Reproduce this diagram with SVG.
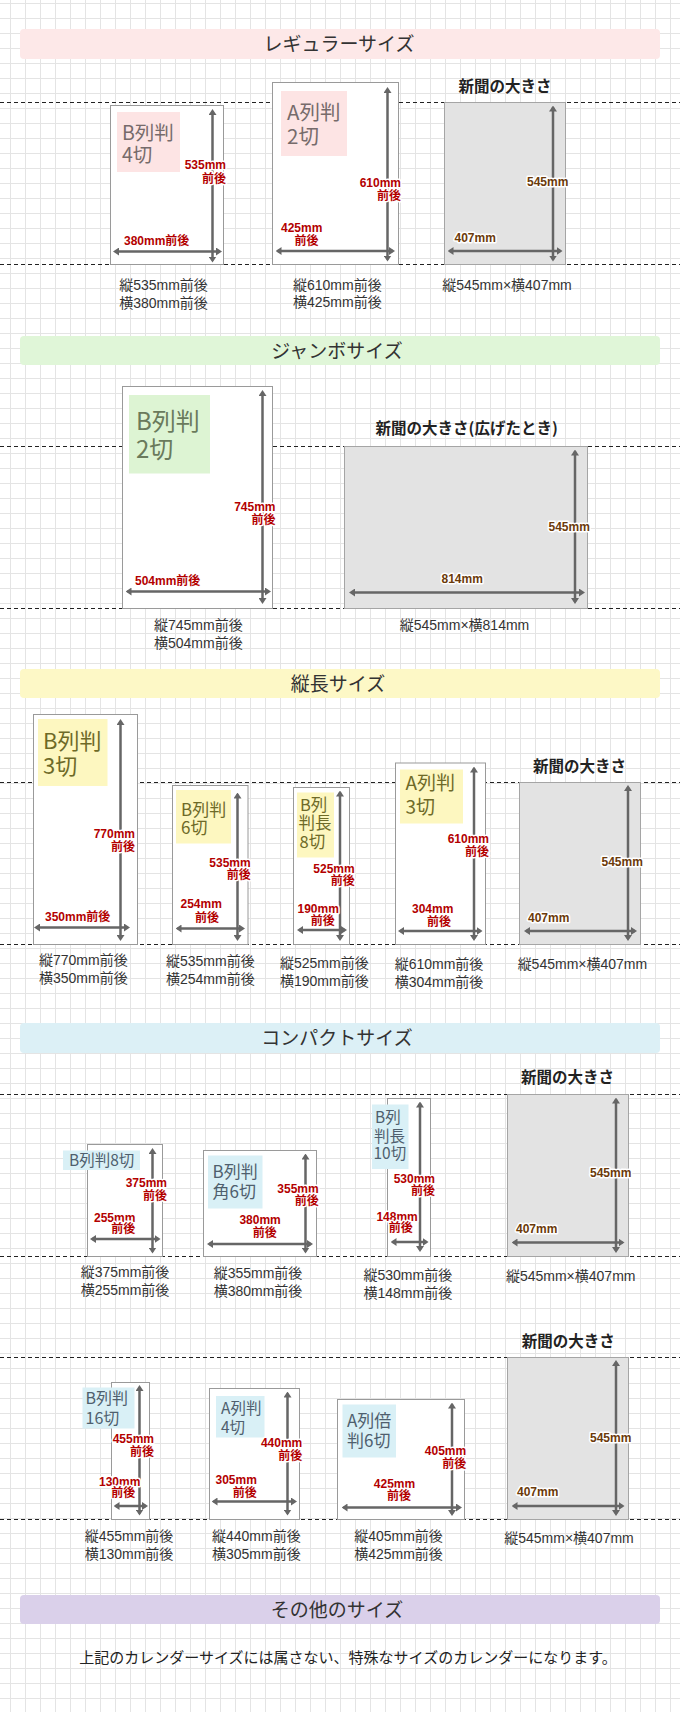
<svg xmlns="http://www.w3.org/2000/svg" width="680" height="1712" viewBox="0 0 680 1712">
<defs>
<pattern id="grid" width="15" height="15" patternUnits="userSpaceOnUse" x="10" y="3"><path d="M0.5 0V15M0 0.5H15" stroke="#e4e4e4" stroke-width="1" fill="none"/></pattern>
<marker id="ah" viewBox="0 0 6 8" refX="4" refY="4" markerWidth="6" markerHeight="8" markerUnits="userSpaceOnUse" orient="auto-start-reverse"><path d="M0,0 L6,4 L0,8 z" fill="#666"/></marker>
<style>
.box{fill:#fff;stroke:#9a9a9a;stroke-width:1}
.np{fill:#e3e3e3;stroke:#a5a5a5;stroke-width:1}
.arr{stroke:#666;stroke-width:2.5;fill:none;marker-start:url(#ah);marker-end:url(#ah)}
.dash{stroke:#222;stroke-width:1;stroke-dasharray:4 3;fill:none}
.dim{font-family:"Liberation Sans","Noto Sans CJK JP",sans-serif;font-weight:bold;font-size:12px;fill:#b30000;stroke:#fff;stroke-width:3;paint-order:stroke;stroke-linejoin:round}
.br{fill:#6b3a0a}
.e{text-anchor:end}
.cap{font-family:"Liberation Sans","Noto Sans CJK JP",sans-serif;font-size:14px;fill:#333;text-anchor:middle}
.npt{font-family:"Noto Sans CJK JP",sans-serif;font-weight:bold;font-size:15.5px;fill:#222;text-anchor:middle}
.ttl{font-family:"Noto Sans CJK JP",sans-serif;font-size:19px;fill:#333;text-anchor:middle}
.lbl{font-family:"Noto Sans CJK JP",sans-serif}
.pk{fill:#fde4e4}.pkt{fill:#766b6b}
.gr{fill:#ddf4d3}.grt{fill:#6a7a5c}
.ye{fill:#fdf7c0}.yet{fill:#6e6a28}
.bl{fill:#d9f0f6}.blt{fill:#4f5f6e}
</style>
</defs>
<rect width="680" height="1712" fill="#fff"/>
<rect width="680" height="1712" fill="url(#grid)"/>

<g id="banners">
<rect x="20" y="29" width="640" height="30" rx="4" fill="#fde8e8"/>
<text class="ttl" x="339" y="51">レギュラーサイズ</text>
<rect x="20" y="336" width="640" height="29" rx="4" fill="#e0f6d8"/>
<text class="ttl" x="337" y="357.5">ジャンボサイズ</text>
<rect x="20" y="669" width="640" height="29" rx="4" fill="#fdf8c6"/>
<text class="ttl" x="338" y="690.5">縦長サイズ</text>
<rect x="20" y="1023" width="640" height="30" rx="4" fill="#dcf0f6"/>
<text class="ttl" x="337" y="1045">コンパクトサイズ</text>
<rect x="20" y="1595" width="640" height="29" rx="4" fill="#dad0ea"/>
<text class="ttl" x="337" y="1616.5">その他のサイズ</text>
</g>

<g id="guides">
<path class="dash" d="M0 102.5H680M0 264.5H680M0 446.5H680M0 608.5H680M0 782.5H680M0 944.5H680M0 1094.5H680M0 1256.5H680M0 1357.5H680M0 1519.5H680"/>
</g>

<!-- Section 1 -->
<g id="b4">
<rect class="box" x="110.5" y="105.5" width="113" height="159"/>
<rect class="pk" x="117" y="112" width="63" height="60"/>
<text class="lbl pkt" x="122" y="140" font-size="19.5">B列判<tspan x="122" y="161.5">4切</tspan></text>
<path class="arr" d="M212.5 111V260.5"/>
<path class="arr" d="M115 251.5H220"/>
<text class="dim e" x="226" y="169">535mm</text>
<text class="dim e" x="226" y="182.5">前後</text>
<text class="dim" x="124" y="245">380mm前後</text>
<text class="cap" x="163.5" y="290">縦535mm前後</text>
<text class="cap" x="163.5" y="307.5">横380mm前後</text>
</g>
<g id="a2">
<rect class="box" x="272.5" y="82.5" width="126" height="182"/>
<rect class="pk" x="281" y="91" width="66" height="65"/>
<text class="lbl pkt" x="287" y="120" font-size="20.5">A列判<tspan x="287" y="144">2切</tspan></text>
<path class="arr" d="M387.5 89V259.5"/>
<path class="arr" d="M277.5 251H393"/>
<text class="dim e" x="401" y="186.5">610mm</text>
<text class="dim e" x="401" y="200">前後</text>
<text class="dim" x="281" y="231.5">425mm</text>
<text class="dim e" x="318.5" y="245">前後</text>
<text class="cap" x="337.3" y="289.5">縦610mm前後</text>
<text class="cap" x="337.3" y="307">横425mm前後</text>
</g>
<g id="np1">
<text class="npt" x="505" y="91.5">新聞の大きさ</text>
<rect class="np" x="444.5" y="102.5" width="121" height="162"/>
<path class="arr" d="M553 107.5V259.5"/>
<path class="arr" d="M449.5 251H560.5"/>
<text class="dim br" x="527" y="186">545mm</text>
<text class="dim br" x="454.5" y="241.5">407mm</text>
<text class="cap" x="507" y="289.5">縦545mm×横407mm</text>
</g>

<!-- Section 2 -->
<g id="b2">
<rect class="box" x="122.5" y="386.5" width="150" height="222"/>
<rect class="gr" x="129" y="395" width="81" height="78.5"/>
<text class="lbl grt" x="136" y="430" font-size="24">B列判<tspan x="136" y="458">2切</tspan></text>
<path class="arr" d="M262.5 392V602"/>
<path class="arr" d="M127.5 591.5H269"/>
<text class="dim e" x="275.5" y="510.5">745mm</text>
<text class="dim e" x="275.5" y="524">前後</text>
<text class="dim" x="135" y="585">504mm前後</text>
<text class="cap" x="198.3" y="630">縦745mm前後</text>
<text class="cap" x="198.3" y="647.5">横504mm前後</text>
</g>
<g id="np2">
<text class="npt" x="466.7" y="434">新聞の大きさ(広げたとき)</text>
<rect class="np" x="344.5" y="446.5" width="243" height="162"/>
<path class="arr" d="M575 451.5V602"/>
<path class="arr" d="M351 592.5H583"/>
<text class="dim br" x="548.5" y="531">545mm</text>
<text class="dim br" x="441.5" y="582.5">814mm</text>
<text class="cap" x="464.5" y="630">縦545mm×横814mm</text>
</g>

<!-- Section 3 -->
<g id="b3">
<rect class="box" x="33.5" y="714.5" width="104" height="230"/>
<rect class="ye" x="38" y="719" width="69.5" height="67"/>
<text class="lbl yet" x="43" y="749" font-size="22">B列判<tspan x="43" y="774">3切</tspan></text>
<path class="arr" d="M120.5 721V939"/>
<path class="arr" d="M36 927.5H128"/>
<text class="dim e" x="135" y="838">770mm</text>
<text class="dim e" x="135" y="850.5">前後</text>
<text class="dim" x="45" y="921">350mm前後</text>
<text class="cap" x="83.3" y="965">縦770mm前後</text>
<text class="cap" x="83.3" y="982.5">横350mm前後</text>
</g>
<g id="b6">
<rect class="box" x="172.5" y="785.5" width="75.5" height="159"/>
<rect class="ye" x="176" y="790" width="55" height="53.5"/>
<text class="lbl yet" x="181" y="815.5" font-size="17">B列判<tspan x="181" y="833.5">6切</tspan></text>
<path class="arr" d="M237.5 794.5V939"/>
<path class="arr" d="M177.5 928.5H243"/>
<text class="dim e" x="250.7" y="866.5">535mm</text>
<text class="dim e" x="250.7" y="879">前後</text>
<text class="dim" x="180.5" y="908.3">254mm</text>
<text class="dim e" x="219" y="921.5">前後</text>
<text class="cap" x="210.3" y="966">縦535mm前後</text>
<text class="cap" x="210.3" y="984">横254mm前後</text>
</g>
<g id="b8long">
<rect class="box" x="293.5" y="787.5" width="56" height="157"/>
<rect class="ye" x="297" y="792.5" width="37" height="65"/>
<text class="lbl yet" x="300" y="810.5" font-size="16.5">B列<tspan x="298.5" y="829">判長</tspan><tspan x="299.5" y="848">8切</tspan></text>
<path class="arr" d="M340 792.5V939"/>
<path class="arr" d="M299 930H345"/>
<text class="dim e" x="354.7" y="873">525mm</text>
<text class="dim e" x="354.7" y="885">前後</text>
<text class="dim" x="297.5" y="913">190mm</text>
<text class="dim e" x="334.8" y="925">前後</text>
<text class="cap" x="324.3" y="968">縦525mm前後</text>
<text class="cap" x="324.3" y="986">横190mm前後</text>
</g>
<g id="a3">
<rect class="box" x="395.5" y="763" width="90" height="181.5"/>
<rect class="ye" x="400" y="769.5" width="63" height="54"/>
<text class="lbl yet" x="405.5" y="790" font-size="19">A列判<tspan x="405.5" y="814">3切</tspan></text>
<path class="arr" d="M474 768.5V939"/>
<path class="arr" d="M400 931H480.5"/>
<text class="dim e" x="489" y="843">610mm</text>
<text class="dim e" x="489" y="855.5">前後</text>
<text class="dim" x="412" y="913">304mm</text>
<text class="dim e" x="451" y="925.5">前後</text>
<text class="cap" x="439" y="969">縦610mm前後</text>
<text class="cap" x="439" y="987">横304mm前後</text>
</g>
<g id="np3">
<text class="npt" x="579.6" y="771.5">新聞の大きさ</text>
<rect class="np" x="519.5" y="782.5" width="121" height="162"/>
<path class="arr" d="M628 787V939"/>
<path class="arr" d="M526 931H635"/>
<text class="dim br" x="601.5" y="865.5">545mm</text>
<text class="dim br" x="528" y="921.5">407mm</text>
<text class="cap" x="582.4" y="969">縦545mm×横407mm</text>
</g>

<!-- Section 4 -->
<g id="b8">
<rect class="box" x="87.5" y="1144.5" width="75" height="112"/>
<rect class="bl" x="63" y="1150.5" width="77" height="19.5"/>
<text class="lbl blt" x="69" y="1165.5" font-size="15.5">B列判8切</text>
<path class="arr" d="M152.5 1150V1251.5"/>
<path class="arr" d="M92 1239H158.5"/>
<text class="dim e" x="167" y="1187">375mm</text>
<text class="dim e" x="167" y="1200">前後</text>
<text class="dim" x="94" y="1221.5">255mm</text>
<text class="dim e" x="135.3" y="1233">前後</text>
<text class="cap" x="125" y="1277">縦375mm前後</text>
<text class="cap" x="125" y="1295">横255mm前後</text>
</g>
<g id="bsq6">
<rect class="box" x="203.5" y="1150.5" width="113" height="106"/>
<rect class="bl" x="208" y="1155.5" width="54.5" height="53"/>
<text class="lbl blt" x="212.5" y="1178" font-size="17">B列判<tspan x="212.5" y="1198">角6切</tspan></text>
<path class="arr" d="M305.5 1155.5V1251.5"/>
<path class="arr" d="M209 1244H311"/>
<text class="dim e" x="318.7" y="1192.5">355mm</text>
<text class="dim e" x="318.7" y="1205">前後</text>
<text class="dim" x="239.4" y="1224">380mm</text>
<text class="dim e" x="276.7" y="1237">前後</text>
<text class="cap" x="258" y="1278">縦355mm前後</text>
<text class="cap" x="258" y="1296">横380mm前後</text>
</g>
<g id="b10long">
<rect class="box" x="387.5" y="1098.5" width="43" height="158"/>
<rect class="bl" x="372" y="1104.5" width="36.5" height="64.5"/>
<text class="lbl blt" x="375" y="1123" font-size="15.5">B列<tspan x="374" y="1141.5">判長</tspan><tspan x="373.5" y="1159">10切</tspan></text>
<path class="arr" d="M420 1103.5V1250"/>
<path class="arr" d="M392.5 1242H426.5"/>
<text class="dim e" x="435" y="1182.5">530mm</text>
<text class="dim e" x="435" y="1195">前後</text>
<text class="dim" x="376.4" y="1220.5">148mm</text>
<text class="dim e" x="412.8" y="1232">前後</text>
<text class="cap" x="407.8" y="1280">縦530mm前後</text>
<text class="cap" x="407.8" y="1297.5">横148mm前後</text>
</g>
<g id="np4">
<text class="npt" x="567.6" y="1083">新聞の大きさ</text>
<rect class="np" x="507.5" y="1094.5" width="121" height="162"/>
<path class="arr" d="M616 1099.5V1251"/>
<path class="arr" d="M513.5 1242.5H622.5"/>
<text class="dim br" x="590" y="1177">545mm</text>
<text class="dim br" x="516" y="1233">407mm</text>
<text class="cap" x="570.7" y="1281">縦545mm×横407mm</text>
</g>

<!-- Section 5 -->
<g id="b16">
<rect class="box" x="111.5" y="1382.5" width="38" height="137"/>
<rect class="bl" x="82.5" y="1387.5" width="52" height="41"/>
<text class="lbl blt" x="85.5" y="1404" font-size="16">B列判<tspan x="85.5" y="1424">16切</tspan></text>
<path class="arr" d="M139.5 1387V1513.5"/>
<path class="arr" d="M115.5 1506H146"/>
<text class="dim e" x="154" y="1443">455mm</text>
<text class="dim e" x="154" y="1456">前後</text>
<text class="dim" x="99" y="1485.5">130mm</text>
<text class="dim e" x="135.3" y="1496.5">前後</text>
<text class="cap" x="129" y="1541">縦455mm前後</text>
<text class="cap" x="129" y="1558.5">横130mm前後</text>
</g>
<g id="a4">
<rect class="box" x="209.5" y="1388.5" width="90" height="131"/>
<rect class="bl" x="216" y="1396" width="48.5" height="41.5"/>
<text class="lbl blt" x="221" y="1414" font-size="15.5">A列判<tspan x="221" y="1432.5">4切</tspan></text>
<path class="arr" d="M287.5 1393.5V1513.5"/>
<path class="arr" d="M213.5 1501.5H295"/>
<text class="dim e" x="302.3" y="1447">440mm</text>
<text class="dim e" x="302.3" y="1460">前後</text>
<text class="dim" x="215.5" y="1484">305mm</text>
<text class="dim e" x="256.7" y="1496.5">前後</text>
<text class="cap" x="256.3" y="1541">縦440mm前後</text>
<text class="cap" x="256.3" y="1558.5">横305mm前後</text>
</g>
<g id="a-double6">
<rect class="box" x="337.5" y="1399.5" width="127" height="120"/>
<rect class="bl" x="342.5" y="1404.5" width="53.5" height="53"/>
<text class="lbl blt" x="347" y="1427" font-size="17">A列倍<tspan x="347" y="1447">判6切</tspan></text>
<path class="arr" d="M452 1404.5V1514"/>
<path class="arr" d="M343.5 1507.5H460"/>
<text class="dim e" x="466.2" y="1455">405mm</text>
<text class="dim e" x="466.2" y="1468">前後</text>
<text class="dim" x="373.8" y="1487.5">425mm</text>
<text class="dim e" x="411.1" y="1500">前後</text>
<text class="cap" x="398.5" y="1541">縦405mm前後</text>
<text class="cap" x="398.5" y="1558.5">横425mm前後</text>
</g>
<g id="np5">
<text class="npt" x="568.3" y="1347">新聞の大きさ</text>
<rect class="np" x="507.5" y="1357.5" width="121" height="162"/>
<path class="arr" d="M616 1362V1514"/>
<path class="arr" d="M513.5 1506H622.5"/>
<text class="dim br" x="590" y="1441.5">545mm</text>
<text class="dim br" x="517" y="1496">407mm</text>
<text class="cap" x="569" y="1543">縦545mm×横407mm</text>
</g>

<!-- Section 6 -->
<g id="other">
<text x="348" y="1663" font-family="'Noto Sans CJK JP',sans-serif" font-size="15" fill="#222" text-anchor="middle">上記のカレンダーサイズには属さない、特殊なサイズのカレンダーになります。</text>
</g>
</svg>
